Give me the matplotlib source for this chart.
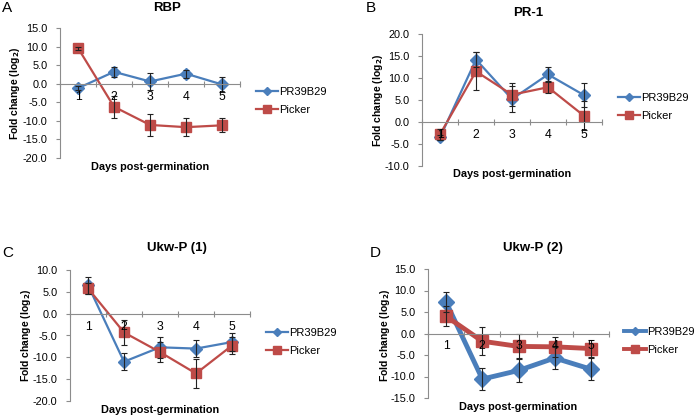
import matplotlib
matplotlib.use("Agg")
import matplotlib.pyplot as plt
from matplotlib.lines import Line2D

plt.rcParams['font.family'] = ['Liberation Sans', 'DejaVu Sans']

days = [1, 2, 3, 4, 5]
day_labels = ["1", "2", "3", "4", "5"]
series_names = ["PR39B29", "Picker"]

# Panel A: RBP
a_pr = [-1.2, 3.2, 0.6, 2.7, -0.2]
a_pr_err = [0.6, 1.3, 2.2, 1.1, 1.9]
a_pk = [9.6, -6.2, -11.1, -11.7, -11.2]
a_pk_err = [0.4, 3.0, 2.9, 2.5, 1.9]

# Panel B: PR-1
b_pr = [-3.5, 14.2, 5.2, 10.8, 6.1]
b_pr_err = [0.5, 1.8, 3.0, 1.8, 2.7]
b_pk = [-2.8, 11.5, 6.2, 7.9, 1.4]
b_pk_err = [1.2, 4.3, 2.6, 1.4, 3.3]

# Panel C: Ukw-P (1)
c_pr = [6.5, -11.0, -7.7, -8.0, -6.5]
c_pr_err = [2.0, 2.0, 2.4, 2.0, 2.0]
c_pk = [5.8, -4.3, -8.8, -13.7, -7.3]
c_pk_err = [1.2, 2.9, 2.2, 3.3, 1.9]

# Panel D: Ukw-P (2)
d_pr = [7.3, -10.6, -8.6, -5.7, -8.3]
d_pr_err = [2.3, 2.5, 2.6, 2.5, 2.5]
d_pk = [4.0, -1.8, -3.0, -3.1, -3.5]
d_pk_err = [2.3, 3.2, 2.8, 2.4, 2.0]

W, H = 696, 415
fig = plt.figure(figsize=(W / 100, H / 100), dpi=100)
fig.patch.set_facecolor('white')

BLUE = '#4A7EBB'
RED = '#BE4B48'
AXC = '#8C8C8C'


def fx(x):
    return x / W


def fy(y):
    return 1 - y / H


def panel(box, ylim, yticks, title, title_xy, letter, letter_xy,
          ylab_xy, xlab_y, leg_xy, pr, pr_err, pk, pk_err, thick=False):
    x0, y0, x1, y1 = box
    ax = fig.add_axes([fx(x0), fy(y1), (x1 - x0) / W, (y1 - y0) / H])
    lw = 3.5 if thick else 1.6
    msd = 8 if thick else 6.5
    mss = 9 if thick else 7
    ax.plot(days, pr, color=BLUE, lw=lw, marker='D', ms=msd, zorder=2)
    ax.plot(days, pk, color=RED, lw=lw, marker='s', ms=mss, zorder=2)
    ax.errorbar(days, pr, yerr=pr_err, fmt='none', ecolor='#222222',
                elinewidth=0.8, capsize=2.5, capthick=0.8, zorder=2.2)
    ax.errorbar(days, pk, yerr=pk_err, fmt='none', ecolor='#222222',
                elinewidth=0.8, capsize=2.5, capthick=0.8, zorder=2.2)
    ax.set_xlim(0.5, 5.5)
    ax.set_ylim(*ylim)
    ax.set_yticks(yticks)
    ax.set_yticklabels([f"{v:.1f}" for v in yticks], fontsize=7.8)
    for s in ['top', 'right']:
        ax.spines[s].set_visible(False)
    ax.spines['bottom'].set_position(('data', 0))
    ax.spines['bottom'].set_color(AXC)
    ax.spines['left'].set_color(AXC)
    ax.spines['bottom'].set_linewidth(0.8)
    ax.spines['left'].set_linewidth(0.8)
    ax.set_xticks([0.5, 1.5, 2.5, 3.5, 4.5, 5.5])
    ax.set_xticklabels([])
    ax.set_xticks(days, minor=True)
    ax.set_xticklabels(day_labels, minor=True, fontsize=8.8)
    ax.tick_params(axis='x', which='major', direction='inout', length=4,
                   color=AXC, width=0.8)
    ax.tick_params(axis='x', which='minor', length=0, pad=5)
    ax.tick_params(axis='y', direction='out', length=3, color=AXC,
                   width=0.8, pad=6)
    ax.set_axisbelow(False)
    ax.set_facecolor('none')
    fig.text(fx(title_xy[0]), fy(title_xy[1]), title, fontsize=9.5,
             fontweight='bold', ha='center', va='center')
    fig.text(fx(letter_xy[0]), fy(letter_xy[1]), letter, fontsize=11,
             ha='center', va='center')
    fig.text(fx(ylab_xy[0]), fy(ylab_xy[1]), r'Fold change (log$_\mathbf{2}$)',
             fontsize=7.5, fontweight='bold', rotation=90,
             ha='center', va='center')
    fig.text(fx((x0 + x1) / 2), fy(xlab_y), 'Days post-germination',
             fontsize=7.8, fontweight='bold', ha='center', va='center')
    lms_d = 4.5 if thick else msd * 0.6
    lms_s = 5.5 if thick else mss * 0.75
    llw = 2.8 if thick else lw
    handles = [
        Line2D([], [], color=BLUE, lw=llw, marker='D', ms=lms_d),
        Line2D([], [], color=RED, lw=llw, marker='s', ms=lms_s),
    ]
    fig.legend(handles, series_names, loc='upper left',
               bbox_to_anchor=(fx(leg_xy[0]), fy(leg_xy[1])),
               bbox_transform=fig.transFigure, frameon=False,
               fontsize=8, handlelength=2.0, handletextpad=0.1,
               labelspacing=0.75, borderpad=0, borderaxespad=0)
    return ax


panel((60, 28, 240, 158), (-20, 15), [15, 10, 5, 0, -5, -10, -15, -20],
      'RBP', (167, 8), 'A', (7, 8), (15, 93), 167, (256, 87),
      a_pr, a_pr_err, a_pk, a_pk_err)

panel((422, 34, 602, 166), (-10, 20), [20, 15, 10, 5, 0, -5, -10],
      'PR-1', (528, 13), 'B', (371, 8), (378, 100), 174, (618, 93),
      b_pr, b_pr_err, b_pk, b_pk_err)

panel((70, 270, 250, 401), (-20, 10), [10, 5, 0, -5, -10, -15, -20],
      'Ukw-P (1)', (177, 248), 'C', (8, 253), (26, 335), 410, (266, 328),
      c_pr, c_pr_err, c_pk, c_pk_err)

panel((428, 269, 609, 398), (-15, 15), [15, 10, 5, 0, -5, -10, -15],
      'Ukw-P (2)', (533, 248), 'D', (375, 253), (385, 335), 407, (624, 327),
      d_pr, d_pr_err, d_pk, d_pk_err, thick=True)

fig.savefig('out.png', dpi=100, facecolor='white')
